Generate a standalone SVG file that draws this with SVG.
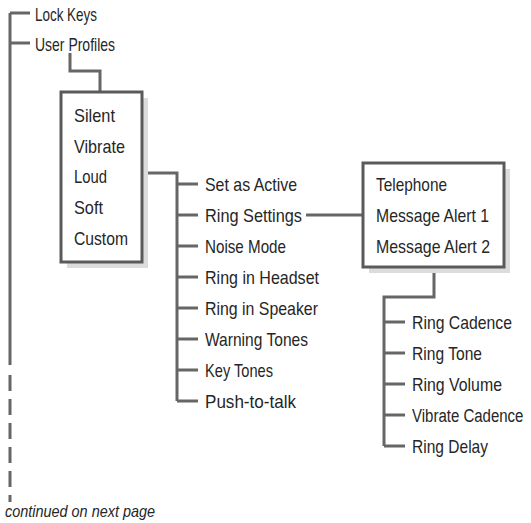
<svg xmlns="http://www.w3.org/2000/svg" width="531" height="523" viewBox="0 0 531 523">
<style>
.t{font-family:"Liberation Sans",Arial,sans-serif;font-size:19px;fill:#262626}
.it{font-family:"Liberation Sans",Arial,sans-serif;font-size:17px;font-style:italic;fill:#262626}
.ln{fill:none;stroke:#666;stroke-width:3;stroke-linejoin:miter;stroke-linecap:butt}
.box{fill:#fff;stroke:#5a5a5a;stroke-width:3}
.sh{fill:#dcdcdc}
</style>
<rect width="531" height="523" fill="#fff"/>
<g id="connectors">
<path class="ln" d="M10 13 V365 M10 13 H30 M10 43 H30"/>
<path class="ln" d="M10 375 V502" stroke-dasharray="16 8"/>
<path class="ln" d="M70 53 V71 H100 V92"/>
<path class="ln" d="M142 173 H177 V401 M177 184 H198 M177 215 H198 M177 246 H198 M177 277 H198 M177 308 H198 M177 339 H198 M177 370 H198 M177 401 H198"/>
<path class="ln" d="M306 215 H363"/>
<path class="ln" d="M434 267 V297 H384 V446 M384 322 H405 M384 353 H405 M384 384 H405 M384 415 H405 M384 446 H405"/>
</g>
<g id="root">
<text class="t" x="35" y="21" textLength="62" lengthAdjust="spacingAndGlyphs">Lock Keys</text>
<text class="t" x="35" y="50.5" textLength="80" lengthAdjust="spacingAndGlyphs">User Profiles</text>
</g>
<g id="profiles">
<rect class="sh" x="67" y="98" width="81" height="170"/>
<rect class="box" x="61" y="92" width="81" height="170"/>
<text class="t" x="74" y="122" textLength="41" lengthAdjust="spacingAndGlyphs">Silent</text>
<text class="t" x="74" y="152.5" textLength="51" lengthAdjust="spacingAndGlyphs">Vibrate</text>
<text class="t" x="74" y="183" textLength="33" lengthAdjust="spacingAndGlyphs">Loud</text>
<text class="t" x="74" y="214" textLength="29" lengthAdjust="spacingAndGlyphs">Soft</text>
<text class="t" x="74" y="245" textLength="54" lengthAdjust="spacingAndGlyphs">Custom</text>
</g>
<g id="profile-options">
<text class="t" x="205" y="191" textLength="92" lengthAdjust="spacingAndGlyphs">Set as Active</text>
<text class="t" x="205" y="222" textLength="97" lengthAdjust="spacingAndGlyphs">Ring Settings</text>
<text class="t" x="205" y="253" textLength="81" lengthAdjust="spacingAndGlyphs">Noise Mode</text>
<text class="t" x="205" y="284" textLength="114" lengthAdjust="spacingAndGlyphs">Ring in Headset</text>
<text class="t" x="205" y="315" textLength="113" lengthAdjust="spacingAndGlyphs">Ring in Speaker</text>
<text class="t" x="205" y="346" textLength="103" lengthAdjust="spacingAndGlyphs">Warning Tones</text>
<text class="t" x="205" y="377" textLength="68" lengthAdjust="spacingAndGlyphs">Key Tones</text>
<text class="t" x="205" y="408" textLength="91" lengthAdjust="spacingAndGlyphs">Push-to-talk</text>
</g>
<g id="ring-types">
<rect class="sh" x="369" y="169" width="141" height="104"/>
<rect class="box" x="363" y="163" width="141" height="104"/>
<text class="t" x="376" y="191" textLength="71" lengthAdjust="spacingAndGlyphs">Telephone</text>
<text class="t" x="376" y="222" textLength="113" lengthAdjust="spacingAndGlyphs">Message Alert 1</text>
<text class="t" x="376" y="252.5" textLength="114" lengthAdjust="spacingAndGlyphs">Message Alert 2</text>
</g>
<g id="ring-options">
<text class="t" x="412" y="329" textLength="100" lengthAdjust="spacingAndGlyphs">Ring Cadence</text>
<text class="t" x="412" y="360" textLength="70" lengthAdjust="spacingAndGlyphs">Ring Tone</text>
<text class="t" x="412" y="391" textLength="90" lengthAdjust="spacingAndGlyphs">Ring Volume</text>
<text class="t" transform="translate(412 422) scale(0.79 1)">Vibrate Cadence</text>
<text class="t" x="412" y="453" textLength="76" lengthAdjust="spacingAndGlyphs">Ring Delay</text>
</g>
<g id="continued">
<text class="it" x="5" y="517" textLength="150" lengthAdjust="spacingAndGlyphs">continued on next page</text>
</g>
</svg>
